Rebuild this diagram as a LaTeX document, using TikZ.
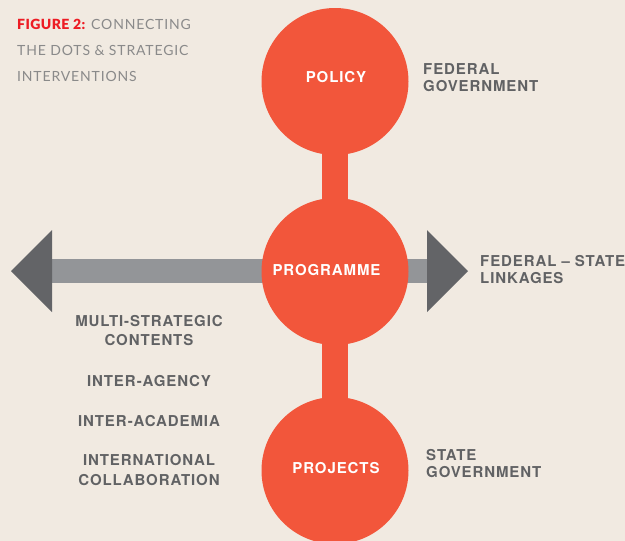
\documentclass[tikz,border=0pt]{standalone}
\usepackage{fontspec}
\setmainfont{Lato}
\newfontfamily\labfont[LetterSpace=6]{TeX Gyre Heros}
\newfontfamily\titfont[LetterSpace=6]{Lato}
\newfontfamily\titbold[LetterSpace=3]{Lato Black}
\definecolor{bgc}{HTML}{F1EAE1}
\definecolor{redc}{HTML}{F2563B}
\definecolor{barc}{HTML}{939598}
\definecolor{headc}{HTML}{636467}
\definecolor{txtc}{HTML}{616264}
\definecolor{titc}{HTML}{8A8A8A}
\definecolor{titred}{HTML}{ED1C24}
\begin{document}
\begin{tikzpicture}[x=1pt,y=-1pt,
  stage/.style={circle,fill=redc,minimum size=147pt,inner sep=0pt},
  stagetext/.style={text=white,font=\labfont\bfseries\fontsize{15}{17}\selectfont,inner sep=0pt},
  lab/.style={text=txtc,font=\labfont\bfseries\fontsize{15}{17}\selectfont,inner sep=0pt},
  leftlab/.style={lab,align=center,font=\labfont\bfseries\fontsize{15}{19.5}\selectfont},
  link/.style={redc,line width=26pt},
  shaft/.style={barc,line width=24pt},
  head/.style={fill=headc}]
\fill[bgc] (0,0) rectangle (625,541);
\useasboundingbox (0,0) rectangle (625,541);
% coordinates
\coordinate (cP) at (335,81.5);
\coordinate (cG) at (335,271.5);
\coordinate (cJ) at (335,470.5);
\coordinate (Lbase) at (52,271);
\coordinate (Rbase) at (427,271);
\coordinate (Ltip) at (11,271);
\coordinate (Rtip) at (468,271);
\coordinate (Ltop) at (52,230);
\coordinate (Lbot) at (52,312);
\coordinate (Rtop) at (427,230);
\coordinate (Rbot) at (427,312);
% horizontal double arrow
\draw[shaft] (Lbase) -- (Rbase);
\fill[head] (Ltip) -- (Ltop) -- (Lbot) -- cycle;
\fill[head] (Rtip) -- (Rtop) -- (Rbot) -- cycle;
% vertical links
\draw[link] (cP) -- (cG);
\draw[link] (cG) -- (cJ);
% circles
\node[stage] (policy) at (cP) {};
\node[stage] (prog) at (cG) {};
\node[stage] (proj) at (cJ) {};
\node[stagetext] (tpolicy) at (336,77) {POLICY};
\node[stagetext] (tprog) at (326.5,270) {PROGRAMME};
\node[stagetext] (tproj) at (336,468) {PROJECTS};
% right labels
\node[lab,align=left,anchor=west] (fedgov) at (423,77.5) {FEDERAL\\GOVERNMENT};
\node[lab,align=left,anchor=west] (fedstate) at (480,269.5) {FEDERAL – STATE\\LINKAGES};
\node[lab,align=left,anchor=west] (stategov) at (426,463.5) {STATE\\GOVERNMENT};
% left labels
\node[leftlab] (multi) at (149,330.5) {MULTI-STRATEGIC\\CONTENTS};
\node[leftlab] (agency) at (149,381) {INTER-AGENCY};
\node[leftlab] (academia) at (149,421) {INTER-ACADEMIA};
\node[leftlab] (intl) at (149,470) {INTERNATIONAL\\COLLABORATION};
% title
\node[anchor=west,align=left,inner sep=0pt,text=titc,font=\titfont\fontsize{14}{26}\selectfont] (title) at (17,50)
  {{\titbold\color{titred}FIGURE 2:} CONNECTING\\THE DOTS \& STRATEGIC\\INTERVENTIONS};
\end{tikzpicture}
\end{document}
